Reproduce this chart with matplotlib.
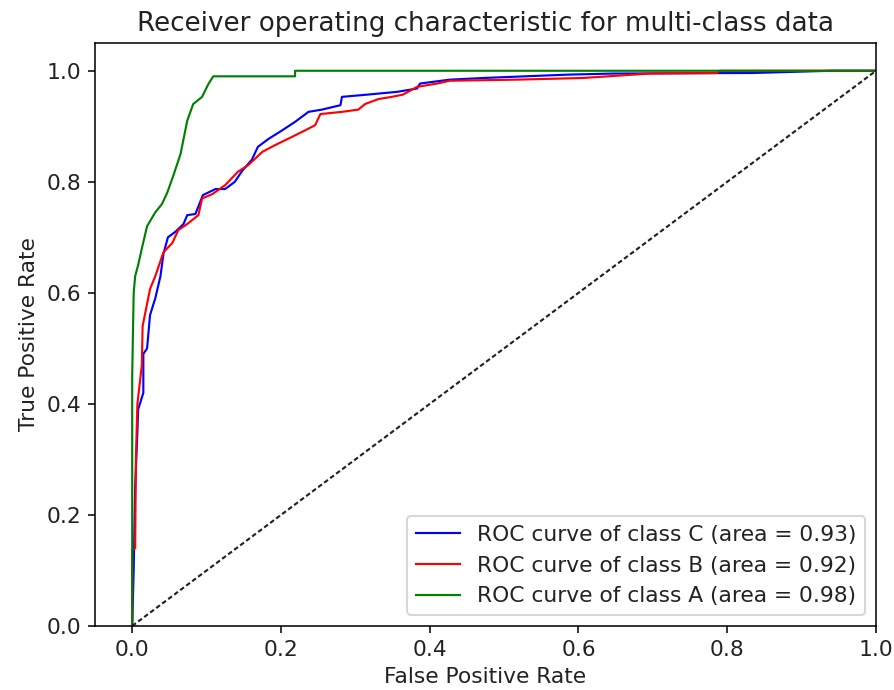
import matplotlib
matplotlib.use("Agg")
import matplotlib.pyplot as plt

# Class C (blue)
fpr_c = [0, 0.002, 0.004, 0.007, 0.008, 0.015, 0.015, 0.02, 0.024, 0.031, 0.038, 0.042, 0.048,
         0.058, 0.069, 0.074, 0.085, 0.095, 0.112, 0.125, 0.138, 0.148, 0.161, 0.169, 0.183,
         0.202, 0.219, 0.237, 0.255, 0.280, 0.282, 0.316, 0.356, 0.383, 0.387, 0.427, 0.472,
         0.585, 0.647, 0.835, 0.94, 1.0]
tpr_c = [0, 0.10, 0.25, 0.35, 0.39, 0.42, 0.49, 0.50, 0.56, 0.59, 0.63, 0.67, 0.70,
         0.71, 0.724, 0.74, 0.742, 0.776, 0.787, 0.787, 0.80, 0.82, 0.84, 0.863, 0.877,
         0.893, 0.908, 0.926, 0.93, 0.938, 0.953, 0.957, 0.962, 0.968, 0.977, 0.984, 0.987,
         0.993, 0.995, 0.996, 1.0, 1.0]

# Class B (red)
fpr_b = [0, 0, 0.004, 0.005, 0.007, 0.013, 0.014, 0.017, 0.024, 0.031, 0.042, 0.054, 0.062,
         0.074, 0.089, 0.094, 0.108, 0.125, 0.142, 0.156, 0.175, 0.192, 0.215, 0.233, 0.246,
         0.253, 0.282, 0.304, 0.313, 0.331, 0.349, 0.364, 0.383, 0.410, 0.427, 0.517, 0.606,
         0.696, 0.786, 0.79, 1.0]
tpr_b = [0, 0.137, 0.14, 0.30, 0.40, 0.47, 0.54, 0.56, 0.607, 0.63, 0.673, 0.69, 0.713,
         0.724, 0.74, 0.77, 0.778, 0.794, 0.818, 0.83, 0.854, 0.866, 0.881, 0.893, 0.902,
         0.922, 0.926, 0.93, 0.94, 0.949, 0.953, 0.957, 0.971, 0.977, 0.982, 0.984, 0.987,
         0.995, 0.996, 1.0, 1.0]

# Class A (green)
fpr_a = [0, 0, 0.002, 0.004, 0.008, 0.013, 0.02, 0.031, 0.04, 0.047, 0.055, 0.065, 0.074,
         0.082, 0.094, 0.102, 0.109, 0.219, 0.219, 1.0]
tpr_a = [0, 0.45, 0.60, 0.63, 0.65, 0.68, 0.72, 0.745, 0.76, 0.78, 0.81, 0.85, 0.91,
         0.94, 0.953, 0.975, 0.99, 0.99, 1.0, 1.0]

labels = ["ROC curve of class C (area = 0.93)",
          "ROC curve of class B (area = 0.92)",
          "ROC curve of class A (area = 0.98)"]
colors = ["blue", "red", "green"]

plt.rcParams["font.size"] = 11.2
plt.rcParams["text.color"] = "#222222"
plt.rcParams["axes.labelcolor"] = "#222222"
plt.rcParams["xtick.labelcolor"] = "#222222"
plt.rcParams["ytick.labelcolor"] = "#222222"

fig = plt.figure(figsize=(894 / 140, 690 / 140), dpi=140)
ax = fig.add_axes([95 / 894, 1 - 626 / 690, (876 - 95) / 894, (626 - 43) / 690])

for fx, ty, lab, col in zip([fpr_c, fpr_b, fpr_a], [tpr_c, tpr_b, tpr_a], labels, colors):
    ax.plot(fx, ty, color=col, lw=1.1, label=lab)

ax.plot([0, 1], [0, 1], color="#222222", linestyle=(0, (2.2, 1.3)), lw=1.1)
ax.set_xlim(-0.05, 1.0)
ax.set_ylim(0.0, 1.05)
ax.set_xlabel("False Positive Rate")
ax.set_ylabel("True Positive Rate")
ax.set_title("Receiver operating characteristic for multi-class data")
ax.legend(loc="lower right")

fig.savefig("out.png", dpi=140)
